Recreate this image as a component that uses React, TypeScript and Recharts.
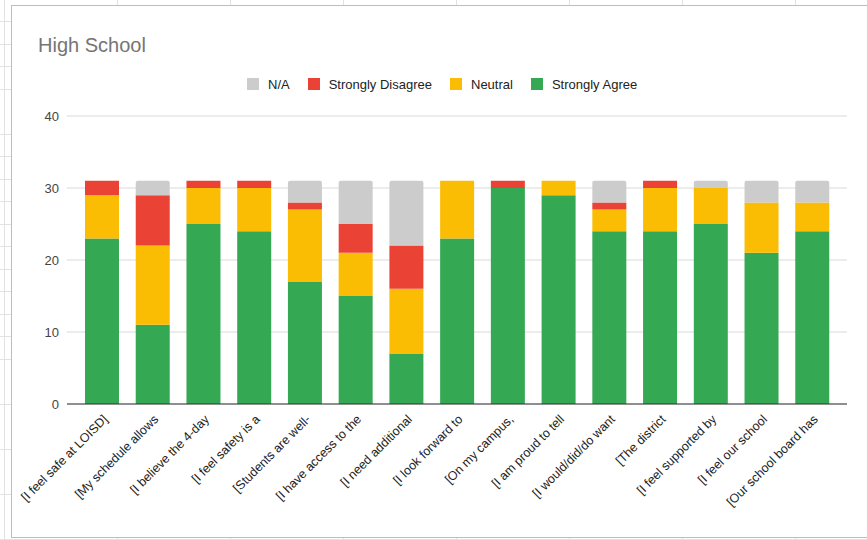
import React from "react";
import { BarChart, Bar, XAxis, YAxis, CartesianGrid } from "recharts";

const questions = [
  "[I feel safe at LOISD]",
  "[My schedule allows",
  "[I believe the 4-day",
  "[I feel safety is a",
  "[Students are well-",
  "[I have access to the",
  "[I need additional",
  "[I look forward to",
  "[On my campus,",
  "[I am proud to tell",
  "[I would/did/do want",
  "[The district",
  "[I feel supported by",
  "[I feel our school",
  "[Our school board has",
];

const stronglyAgree = [23, 11, 25, 24, 17, 15, 7, 23, 30, 29, 24, 24, 25, 21, 24];
const neutral = [6, 11, 5, 6, 10, 6, 9, 8, 0, 2, 3, 6, 5, 7, 4];
const stronglyDisagree = [2, 7, 1, 1, 1, 4, 6, 0, 1, 0, 1, 1, 0, 0, 0];
const notApplicable = [0, 2, 0, 0, 3, 6, 9, 0, 0, 0, 3, 0, 1, 3, 3];

const yTicks = [0, 10, 20, 30, 40];

const COLORS = {
  na: "#cccccc",
  disagree: "#ea4335",
  neutral: "#fbbc04",
  agree: "#34a853",
};

const legendItems = [
  { label: "N/A", color: COLORS.na },
  { label: "Strongly Disagree", color: COLORS.disagree },
  { label: "Neutral", color: COLORS.neutral },
  { label: "Strongly Agree", color: COLORS.agree },
];

const data = questions.map((name, i) => ({
  name,
  agree: stronglyAgree[i],
  neutral: neutral[i],
  disagree: stronglyDisagree[i],
  na: notApplicable[i],
}));

const FONT = "'Liberation Sans', Arial, sans-serif";

function RotatedTick(props: any) {
  const { x, y, payload } = props;
  const ax = x + 6;
  const ay = y + 8;
  return (
    <text
      x={ax}
      y={ay}
      transform={`rotate(-45, ${ax}, ${ay})`}
      textAnchor="end"
      fontSize={12.5}
      fontFamily={FONT}
      fill="#222222"
    >
      {payload.value}
    </text>
  );
}

export default function App() {
  return (
    <div
      style={{
        position: "relative",
        width: 867,
        height: 540,
        overflow: "hidden",
        background: "#ffffff",
        backgroundImage:
          "repeating-linear-gradient(to bottom, transparent 0px, transparent 21.5px, #e2e2e2 21.5px, #e2e2e2 22.5px), repeating-linear-gradient(to right, transparent 0px, transparent 4px, #e2e2e2 4px, #e2e2e2 5px, transparent 5px, transparent 113px)",
        fontFamily: FONT,
      }}
    >
      <style>{`body{margin:0}`}</style>
      <div
        style={{
          position: "absolute",
          left: 11,
          top: 5,
          width: 867 - 11,
          height: 538 - 5,
          background: "#ffffff",
          borderLeft: "1px solid #bdbdbd",
          borderTop: "1px solid #bdbdbd",
          borderBottom: "1px solid #bdbdbd",
          boxSizing: "border-box",
        }}
      />
      <div
        style={{
          position: "absolute",
          left: 38,
          top: 32,
          fontSize: 20,
          color: "#757575",
          lineHeight: "26px",
        }}
      >
        High School
      </div>
      <div
        style={{
          position: "absolute",
          left: 247,
          top: 76,
          display: "flex",
          alignItems: "center",
          height: 16,
          fontSize: 13,
          color: "#222222",
          whiteSpace: "nowrap",
        }}
      >
        {legendItems.map((item) => (
          <div key={item.label} style={{ display: "flex", alignItems: "center", marginRight: 18 }}>
            <span
              style={{
                display: "inline-block",
                width: 12,
                height: 12,
                background: item.color,
                marginRight: 9,
              }}
            />
            <span>{item.label}</span>
          </div>
        ))}
      </div>
      <div style={{ position: "absolute", left: 0, top: 0 }}>
        <BarChart
          width={867}
          height={540}
          data={data}
          margin={{ top: 116, right: 20, left: 17, bottom: 36 }}
        >
          <CartesianGrid vertical={false} stroke="#d9d9d9" />
          <XAxis
            dataKey="name"
            interval={0}
            height={100}
            tickLine={false}
            axisLine={{ stroke: "#333333" }}
            padding={{ left: 10, right: 9 }}
            tick={<RotatedTick />}
          />
          <YAxis
            width={50}
            domain={[0, 40]}
            ticks={yTicks}
            axisLine={false}
            tickLine={false}
            tickSize={0}
            tickMargin={8}
            tick={{ fontSize: 13, fill: "#444444", fontFamily: FONT }}
          />
          <Bar dataKey="agree" stackId="s" fill={COLORS.agree} barSize={34} isAnimationActive={false} />
          <Bar dataKey="neutral" stackId="s" fill={COLORS.neutral} barSize={34} isAnimationActive={false} />
          <Bar dataKey="disagree" stackId="s" fill={COLORS.disagree} barSize={34} isAnimationActive={false} />
          <Bar
            dataKey="na"
            stackId="s"
            fill={COLORS.na}
            barSize={34}
            radius={[2, 2, 0, 0]}
            isAnimationActive={false}
          />
        </BarChart>
      </div>
    </div>
  );
}
